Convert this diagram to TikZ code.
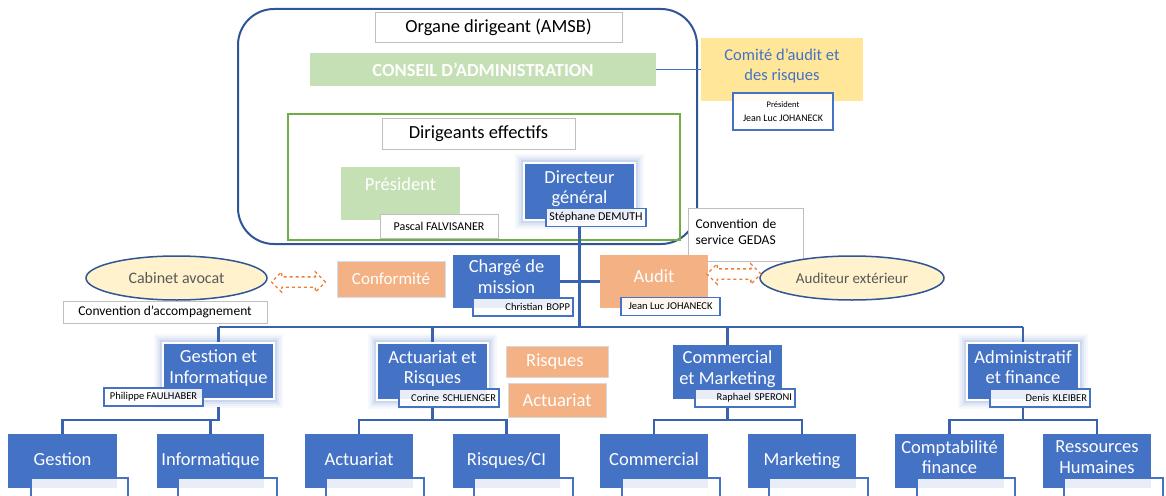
\documentclass[tikz,border=0pt]{standalone}
\usepackage{fontspec}
\setmainfont{Carlito}
\usetikzlibrary{shapes,arrows}

\definecolor{unitblue}{HTML}{4472C4}
\definecolor{frameblue}{HTML}{2F5597}
\definecolor{linkblue}{HTML}{3A62AE}
\definecolor{glowblue}{HTML}{8FAADC}
\definecolor{lightgreen}{HTML}{C5E0B4}
\definecolor{framegreen}{HTML}{70AD47}
\definecolor{peach}{HTML}{F4B183}
\definecolor{arroworange}{HTML}{ED7D31}
\definecolor{paleyellow}{HTML}{FFF2CC}
\definecolor{goldbox}{HTML}{FFE699}
\definecolor{greyline}{HTML}{BFBFBF}
\definecolor{darkgrey}{HTML}{595959}

\tikzstyle{unit} = [rectangle, fill=unitblue, text=white, align=center,
    font=\fontsize{18.5}{20.5}\selectfont, inner sep=1pt]
\tikzstyle{glow} = [draw=white, line width=1.3pt,
    preaction={draw=glowblue, line width=18pt, opacity=0.08},
    preaction={draw=glowblue, line width=14pt, opacity=0.1},
    preaction={draw=glowblue, line width=10pt, opacity=0.15},
    preaction={draw=glowblue, line width=6pt, opacity=0.25}]
\tikzstyle{tag} = [rectangle, draw=unitblue, line width=1.2pt, fill=white,
    fill opacity=0.88, text opacity=1, text=black, minimum width=100pt,
    minimum height=18pt, inner sep=1pt, font=\fontsize{10.5}{11}\selectfont]
\tikzstyle{whitebox} = [rectangle, draw=greyline, fill=white, inner sep=1pt,
    font=\fontsize{18.5}{20.5}\selectfont]
\tikzstyle{greenbox} = [rectangle, fill=lightgreen, text=white, inner sep=1pt]
\tikzstyle{peachbox} = [rectangle, fill=peach, text=white, inner sep=1pt,
    font=\fontsize{18.5}{20.5}\selectfont]
\tikzstyle{oval} = [ellipse, draw=frameblue, line width=1.5pt, fill=paleyellow,
    text=darkgrey, inner sep=0pt, minimum height=44pt]
\tikzstyle{twoway} = [double arrow, draw=arroworange, dashed, line width=1.3pt,
    fill=white, minimum height=54pt, inner sep=4.5pt,
    double arrow head extend=5pt]
\tikzstyle{link} = [draw=linkblue, line width=2.2pt]

\begin{document}
\begin{tikzpicture}[x=1pt,y=-1pt]
  \useasboundingbox (0,0) rectangle (1166,495);
  \clip (0,0) rectangle (1166,495);

  % governance frames
  \draw[frameblue, line width=2pt, rounded corners=36pt] (238,9) rectangle (697,244);
  \draw[framegreen, line width=2pt] (288,114) rectangle (680,240);

  \node[whitebox, minimum width=247pt, minimum height=30pt] (amsb) at (498.5,27) {Organe dirigeant (AMSB)};
  \node[greenbox, minimum width=346pt, minimum height=33pt,
        font=\fontsize{18.5}{20}\selectfont\bfseries] (ca) at (483,69.5) {CONSEIL D'ADMINISTRATION};
  \node[rectangle, fill=goldbox, text=unitblue, align=center, minimum width=162pt,
        minimum height=63pt, text depth=9pt, font=\fontsize{16.5}{20}\selectfont] (comite) at (782,69.5)
        {Comité d'audit et\\des risques};
  \node[tag, minimum height=37pt, align=center, font=\fontsize{10}{14}\selectfont] (comitepres) at (783,111.5)
        {{\fontsize{8.5}{10}\selectfont Président}\\Jean Luc JOHANECK};

  \node[whitebox, minimum width=193pt, minimum height=31pt] (dirig) at (478.5,133.5) {Dirigeants effectifs};
  \node[greenbox, minimum width=119pt, minimum height=53pt, text depth=18pt,
        font=\fontsize{18.5}{20.5}\selectfont] (pres) at (400.5,193.5) {Président};
  \node[whitebox, minimum width=118pt, minimum height=24pt,
        font=\fontsize{12}{13}\selectfont] (falvisaner) at (439,226) {Pascal FALVISANER};
  \node[unit, glow, minimum width=111pt, minimum height=57pt, text depth=9pt] (dg) at (579.5,191.5) {Directeur\\général};
  \node[tag, font=\fontsize{12}{13}\selectfont] (demuth) at (596,217.5) {Stéphane DEMUTH};

  \node[whitebox, minimum width=115pt, minimum height=53pt, text width=100pt, align=left,
        font=\fontsize{13.5}{16}\selectfont, text depth=21pt] (gedas) at (745.5,234.5)
        {Convention de\\service GEDAS};

  % staff functions
  \node[unit, minimum width=107pt, minimum height=53pt, text depth=10pt] (charge) at (506.5,281.5) {Chargé de\\mission};
  \node[tag, text width=94pt, align=right] (bopp) at (523,307) {Christian BOPP};
  \node[peachbox, minimum width=108pt, minimum height=53pt, text depth=10pt] (audit) at (654,281.5) {Audit};
  \node[tag, minimum width=99pt] (johaneck) at (670.5,306.5) {Jean Luc JOHANECK};
  \node[oval, minimum width=184pt, font=\fontsize{15}{17}\selectfont] (auditeur) at (852,278) {Auditeur extérieur};
  \node[twoway] (auditarrow) at (734,274) {};

  \node[oval, minimum width=181pt, font=\fontsize{16}{18}\selectfont] (avocat) at (176.5,278) {Cabinet avocat};
  \node[whitebox, minimum width=204pt, minimum height=22pt,
        font=\fontsize{13.5}{15}\selectfont] (accomp) at (165,312) {Convention d'accompagnement};
  \node[twoway] (avocatarrow) at (298.5,282) {};
  \node[peachbox, draw=glowblue!40, minimum width=108pt, minimum height=36pt,
        font=\fontsize{17}{19}\selectfont] (conformite) at (391,279) {Conformité};

  % departments
  \node[unit, glow, minimum width=111pt, minimum height=56pt, text depth=9pt] (gi) at (218.5,371) {Gestion et\\Informatique};
  \node[tag, minimum width=99pt] (faulhaber) at (153.5,397) {Philippe FAULHABER};
  \node[unit, glow, minimum width=111pt, minimum height=57pt, text depth=9pt] (ar) at (432.5,371.5) {Actuariat et\\Risques};
  \node[tag, text width=94pt, align=right] (schlienger) at (449,398) {Corine SCHLIENGER};
  \node[peachbox, draw=greyline!60, minimum width=102pt, minimum height=31pt] (risques) at (557,361.5) {~Risques~~~};
  \node[peachbox, draw=greyline!60, minimum width=98pt, minimum height=34pt] (actuariat) at (557,400) {Actuariat};
  \node[unit, minimum width=109pt, minimum height=54pt, text depth=9pt] (cm) at (727.5,372) {Commercial\\et Marketing};
  \node[tag, text width=94pt, align=right] (speroni) at (745,398) {Raphael SPERONI};
  \node[unit, glow, minimum width=112pt, minimum height=57pt, text depth=9pt] (af) at (1023,371.5) {Administratif\\et finance};
  \node[tag, text width=94pt, align=right] (kleiber) at (1040,398) {Denis KLEIBER};

  % teams
  \node[unit, minimum width=109pt, minimum height=54pt, text depth=4pt] (gestion) at (62.5,461) {Gestion};
  \node[tag, minimum width=97pt, minimum height=24pt] (gestiontag) at (79.5,490) {};
  \node[unit, minimum width=107pt, minimum height=54pt, text depth=4pt] (info) at (210.5,461) {Informatique};
  \node[tag, minimum width=99pt, minimum height=24pt] (infotag) at (227.5,490) {};
  \node[unit, minimum width=108pt, minimum height=54pt, text depth=4pt] (actu) at (359,461) {Actuariat};
  \node[tag, minimum width=98pt, minimum height=24pt] (actutag) at (375,490) {};
  \node[unit, minimum width=107pt, minimum height=54pt, text depth=4pt] (rci) at (506.5,461) {Risques/CI};
  \node[tag, minimum width=99pt, minimum height=24pt] (rcitag) at (523.5,490) {};
  \node[unit, minimum width=108pt, minimum height=54pt, text depth=4pt] (comm) at (654,461) {Commercial};
  \node[tag, minimum width=98pt, minimum height=24pt] (commtag) at (671,490) {};
  \node[unit, minimum width=108pt, minimum height=54pt, text depth=4pt] (mark) at (802,461) {Marketing};
  \node[tag, minimum width=99pt, minimum height=24pt] (marktag) at (818.5,490) {};
  \node[unit, minimum width=109pt, minimum height=54pt, text depth=8pt] (compta) at (949.5,461) {Comptabilité\\finance};
  \node[tag, minimum width=98pt, minimum height=24pt] (comptatag) at (966,490) {};
  \node[unit, minimum width=108pt, minimum height=54pt, text depth=8pt] (rh) at (1097,461) {Ressources\\Humaines};
  \node[tag, minimum width=99pt, minimum height=24pt] (rhtag) at (1113.5,490) {};

  % connectors
  \coordinate (busL) at (218.5,327);
  \coordinate (busR) at (1023,327);
  \draw[unitblue, line width=1.2pt] (ca.east) -- (comite.west);
  \draw[link] (dg.south |- demuth.south) -- (dg.south |- busL);
  \draw[link] (charge.east) -- (audit.west);
  \draw[link] (busL) -- (busR);
  \draw[link] (gi.north) -- (gi.north |- busL);
  \draw[link] (ar.north) -- (ar.north |- busL);
  \draw[link] (cm.north) -- (cm.north |- busL);
  \draw[link] (af.north) -- (af.north |- busL);

  \draw[link] (gi.south |- faulhaber.south) -- ++(0,13) -| (gestion.north);
  \draw[link] (gi.south |- faulhaber.south) -- ++(0,13) -| (info.north);
  \draw[link] (ar.south |- schlienger.south) -- ++(0,12) -| (actu.north);
  \draw[link] (ar.south |- schlienger.south) -- ++(0,12) -| (rci.north);
  \draw[link] (cm.south |- speroni.south) -- ++(0,12) -| (comm.north);
  \draw[link] (cm.south |- speroni.south) -- ++(0,12) -| (mark.north);
  \draw[link] (af.south |- kleiber.south) -- ++(0,12) -| (compta.north);
  \draw[link] (af.south |- kleiber.south) -- ++(0,12) -| (rh.north);
\end{tikzpicture}
\end{document}
